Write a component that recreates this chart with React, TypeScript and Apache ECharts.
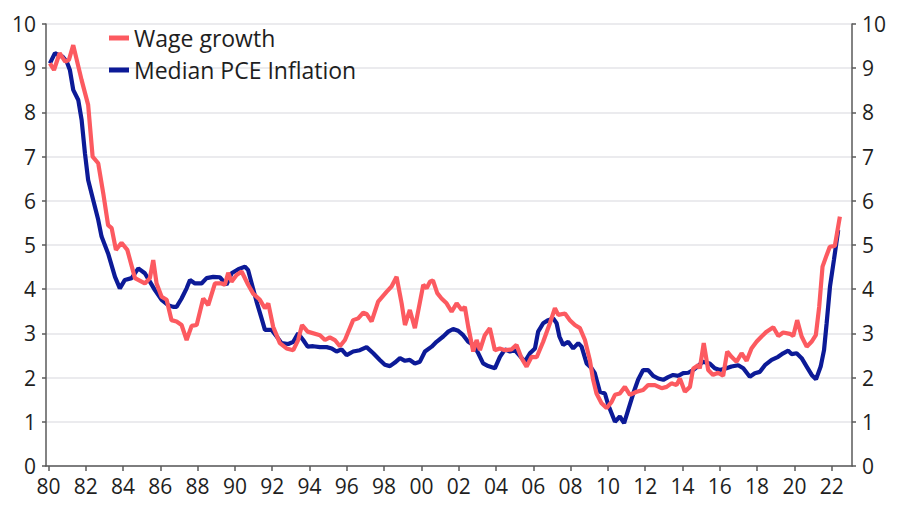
import React, { useEffect, useRef } from "react";
import * as echarts from "echarts";

const xTickYears = [1980, 1982, 1984, 1986, 1988, 1990, 1992, 1994, 1996, 1998, 2000, 2002, 2004, 2006, 2008, 2010, 2012, 2014, 2016, 2018, 2020, 2022];

const wageDates = [
  1980.08, 1980.3, 1980.6, 1980.9, 1981.1, 1981.33, 1981.78, 1982.13, 1982.37, 1982.67, 1982.94, 1983.2, 1983.39, 1983.62, 1983.92,
  1984.23, 1984.64, 1985.17, 1985.44, 1985.62, 1985.8, 1986.07, 1986.34, 1986.6, 1986.87, 1987.14, 1987.41, 1987.68, 1987.95,
  1988.3, 1988.57, 1988.93, 1989.29, 1989.46, 1989.64, 1989.82, 1990.09, 1990.36, 1990.71, 1990.98, 1991.34, 1991.61, 1991.79,
  1992.05, 1992.41, 1992.77, 1993.13, 1993.39, 1993.6, 1993.9, 1994.56, 1994.83, 1995.09, 1995.36, 1995.63, 1995.9, 1996.34,
  1996.61, 1996.88, 1997.06, 1997.33, 1997.68, 1998.13, 1998.4, 1998.67, 1998.94, 1999.12, 1999.38, 1999.65, 2000.1, 2000.28,
  2000.46, 2000.62, 2000.85, 2001.08, 2001.35, 2001.62, 2001.89, 2002.16, 2002.33, 2002.51, 2002.78, 2002.96, 2003.14, 2003.4,
  2003.67, 2003.94, 2004.2, 2004.48, 2004.84, 2005.1, 2005.37, 2005.64, 2005.91, 2006.18, 2006.53, 2006.89, 2007.16, 2007.34,
  2007.7, 2007.96, 2008.23, 2008.5, 2008.77, 2009.03, 2009.21, 2009.39, 2009.66, 2009.93, 2010.2, 2010.38, 2010.64, 2010.91,
  2011.18, 2011.54, 2011.89, 2012.16, 2012.52, 2012.88, 2013.15, 2013.41, 2013.68, 2013.86, 2014.13, 2014.4, 2014.57, 2014.84,
  2014.93, 2015.14, 2015.38, 2015.64, 2015.91, 2016.18, 2016.4, 2016.63, 2016.9, 2017.17, 2017.44, 2017.7, 2017.97, 2018.24,
  2018.51, 2018.87, 2019.14, 2019.4, 2019.76, 2019.94, 2020.15, 2020.39, 2020.66, 2020.92, 2021.15, 2021.33, 2021.51, 2021.73,
  2021.9, 2022.17, 2022.44,
];
const wageValues = [
  9.11, 8.96, 9.34, 9.15, 9.19, 9.52, 8.73, 8.17, 7.0, 6.85, 6.17, 5.45, 5.38, 4.89, 5.05,
  4.89, 4.25, 4.13, 4.25, 4.66, 4.13, 3.83, 3.76, 3.3, 3.27, 3.19, 2.85, 3.17, 3.19,
  3.79, 3.64, 4.13, 4.13, 4.1, 4.37, 4.17, 4.32, 4.4, 4.1, 3.9, 3.76, 3.57, 3.68,
  3.15, 2.78, 2.66, 2.62, 2.85, 3.19, 3.04, 2.96, 2.85, 2.91, 2.85, 2.71, 2.85, 3.3,
  3.34, 3.47, 3.44, 3.27, 3.72, 3.94, 4.06, 4.28, 3.68, 3.19, 3.53, 3.12, 4.1, 4.02,
  4.17, 4.2, 3.91, 3.79, 3.68, 3.49, 3.68, 3.53, 3.6, 3.15, 2.59, 2.85, 2.62, 2.96,
  3.12, 2.62, 2.66, 2.62, 2.64, 2.74, 2.44, 2.25, 2.47, 2.46, 2.81, 3.23, 3.57, 3.42,
  3.45, 3.3, 3.19, 3.12, 2.85, 2.4, 1.95, 1.64, 1.42, 1.31, 1.45, 1.61, 1.64, 1.79,
  1.61, 1.68, 1.72, 1.83, 1.83, 1.76, 1.79, 1.87, 1.83, 1.98, 1.68, 1.79, 2.2, 2.28,
  2.21, 2.78, 2.17, 2.06, 2.11, 2.04, 2.59, 2.47, 2.36, 2.55, 2.38, 2.66, 2.81, 2.93,
  3.04, 3.14, 2.94, 3.02, 2.99, 2.94, 3.3, 2.93, 2.7, 2.81, 2.96, 3.6, 4.51, 4.77,
  4.96, 4.98, 5.64,
];

const pceDates = [
  1980.08, 1980.35, 1980.53, 1980.76, 1980.98, 1981.15, 1981.33, 1981.6, 1981.78, 1981.96, 1982.13, 1982.4, 1982.67, 1982.85,
  1983.2, 1983.57, 1983.83, 1984.1, 1984.46, 1984.82, 1985.17, 1985.44, 1985.71, 1986.07, 1986.42, 1986.69, 1986.87, 1987.14,
  1987.41, 1987.59, 1987.86, 1988.21, 1988.48, 1988.84, 1989.2, 1989.55, 1989.82, 1990.18, 1990.54, 1990.71, 1990.9, 1991.16,
  1991.43, 1991.61, 1991.97, 1992.24, 1992.5, 1992.86, 1993.13, 1993.39, 1993.66, 1993.9, 1994.2, 1994.56, 1994.92, 1995.19,
  1995.45, 1995.72, 1995.99, 1996.34, 1996.7, 1997.06, 1997.42, 1997.77, 1998.04, 1998.31, 1998.58, 1998.85, 1999.12, 1999.38,
  1999.65, 1999.92, 2000.19, 2000.55, 2000.81, 2001.17, 2001.44, 2001.7, 2001.97, 2002.24, 2002.51, 2002.78, 2003.05, 2003.31,
  2003.58, 2003.94, 2004.21, 2004.48, 2004.75, 2005.01, 2005.28, 2005.55, 2005.82, 2006.09, 2006.26, 2006.53, 2006.8, 2007.07,
  2007.25, 2007.4, 2007.6, 2007.87, 2008.14, 2008.41, 2008.59, 2008.86, 2009.13, 2009.3, 2009.57, 2009.84, 2010.02, 2010.38,
  2010.64, 2010.87, 2011.09, 2011.36, 2011.62, 2011.89, 2012.16, 2012.43, 2012.7, 2012.97, 2013.23, 2013.5, 2013.77, 2014.04,
  2014.31, 2014.57, 2014.8, 2015.1, 2015.46, 2015.73, 2016.0, 2016.36, 2016.63, 2016.99, 2017.26, 2017.61, 2017.88, 2018.15,
  2018.42, 2018.78, 2019.13, 2019.4, 2019.67, 2019.85, 2020.12, 2020.39, 2020.66, 2020.93, 2021.16, 2021.41, 2021.59, 2021.73,
  2021.91, 2022.12, 2022.35,
];
const pceValues = [
  9.11, 9.34, 9.3, 9.26, 9.15, 8.96, 8.51, 8.28, 7.83, 7.07, 6.47, 6.02, 5.57, 5.19,
  4.81, 4.28, 4.02, 4.21, 4.25, 4.47, 4.36, 4.17, 3.98, 3.76, 3.64, 3.6, 3.6, 3.79,
  4.02, 4.21, 4.13, 4.13, 4.25, 4.28, 4.27, 4.1, 4.36, 4.45, 4.51, 4.43, 4.13, 3.72,
  3.34, 3.08, 3.08, 2.93, 2.78, 2.76, 2.81, 3.0, 2.85, 2.7, 2.71, 2.69, 2.69, 2.66,
  2.59, 2.64, 2.51, 2.59, 2.62, 2.69, 2.55, 2.4, 2.29, 2.26, 2.34, 2.44, 2.38, 2.4,
  2.32, 2.36, 2.59, 2.7, 2.81, 2.93, 3.04, 3.1, 3.06, 2.96, 2.81, 2.74, 2.55, 2.32,
  2.26, 2.21, 2.47, 2.64, 2.59, 2.62, 2.49, 2.36, 2.55, 2.66, 3.04, 3.23, 3.3, 3.34,
  3.23, 2.93, 2.74, 2.81, 2.66, 2.78, 2.7, 2.32, 2.21, 2.1, 1.68, 1.64, 1.38, 1.0,
  1.12, 0.97, 1.27, 1.64, 1.95, 2.17, 2.17, 2.04, 1.98, 1.95, 2.01, 2.06, 2.04, 2.1,
  2.11, 2.17, 2.25, 2.36, 2.32, 2.21, 2.17, 2.21, 2.25, 2.28, 2.21, 2.02, 2.1, 2.13,
  2.28, 2.4, 2.47, 2.55, 2.61, 2.53, 2.55, 2.44, 2.25, 2.06, 1.96, 2.25, 2.62, 3.23,
  4.06, 4.66, 5.34,
];

const WAGE_COLOR = "#fc5a60";
const PCE_COLOR = "#0c1a97";
const TEXT_COLOR = "#1e1e1e";
const FONT = "Open Sans";

export default function App() {
  const ref = useRef<HTMLDivElement>(null);

  useEffect(() => {
    if (!ref.current) return;
    const chart = echarts.init(ref.current, null, { renderer: "svg" });
    const axisLineStyle = { color: "#5a5a5a", width: 1.5 };
    const yAxisBase = {
      type: "value",
      min: 0,
      max: 10,
      interval: 1,
      axisLine: { show: true, lineStyle: axisLineStyle },
      axisTick: { show: true, length: 4, lineStyle: axisLineStyle },
      axisLabel: { fontSize: 21, color: TEXT_COLOR, fontFamily: FONT, margin: 10 },
    };
    chart.setOption({
      animation: false,
      backgroundColor: "#ffffff",
      grid: { left: 46, right: 48, top: 24, bottom: 44, containLabel: false },
      legend: {
        orient: "vertical",
        left: 104,
        top: 20,
        itemWidth: 20,
        itemHeight: 5,
        itemGap: 6,
        icon: "rect",
        data: ["Wage growth", "Median PCE Inflation"],
        textStyle: { fontSize: 23, lineHeight: 26, color: TEXT_COLOR, fontFamily: FONT },
      },
      xAxis: {
        type: "value",
        min: 1979.87,
        max: 2023.09,
        axisLine: { show: true, onZero: false, lineStyle: axisLineStyle },
        axisTick: { show: true, length: 5, customValues: xTickYears, lineStyle: axisLineStyle },
        axisLabel: {
          customValues: xTickYears,
          formatter: (v: number) => String(Math.round(v) % 100).padStart(2, "0"),
          fontSize: 21,
          color: TEXT_COLOR,
          fontFamily: FONT,
          margin: 9,
        },
        splitLine: { show: false },
      },
      yAxis: [
        {
          ...yAxisBase,
          position: "left",
          splitLine: { show: true, lineStyle: { color: "#e4e4e8", width: 1.5 } },
        },
        {
          ...yAxisBase,
          position: "right",
          splitLine: { show: false },
        },
      ],
      series: [
        {
          name: "Median PCE Inflation",
          type: "line",
          yAxisIndex: 0,
          showSymbol: false,
          symbol: "none",
          data: pceDates.map((d, i) => [d, pceValues[i]]),
          lineStyle: { color: PCE_COLOR, width: 4.2 },
          itemStyle: { color: PCE_COLOR },
        },
        {
          name: "Wage growth",
          type: "line",
          yAxisIndex: 0,
          showSymbol: false,
          symbol: "none",
          data: wageDates.map((d, i) => [d, wageValues[i]]),
          lineStyle: { color: WAGE_COLOR, width: 4.2 },
          itemStyle: { color: WAGE_COLOR },
        },
      ],
    });
    return () => chart.dispose();
  }, []);

  return <div ref={ref} style={{ position: "absolute", left: 0, top: 0, width: 900, height: 510 }} />;
}
